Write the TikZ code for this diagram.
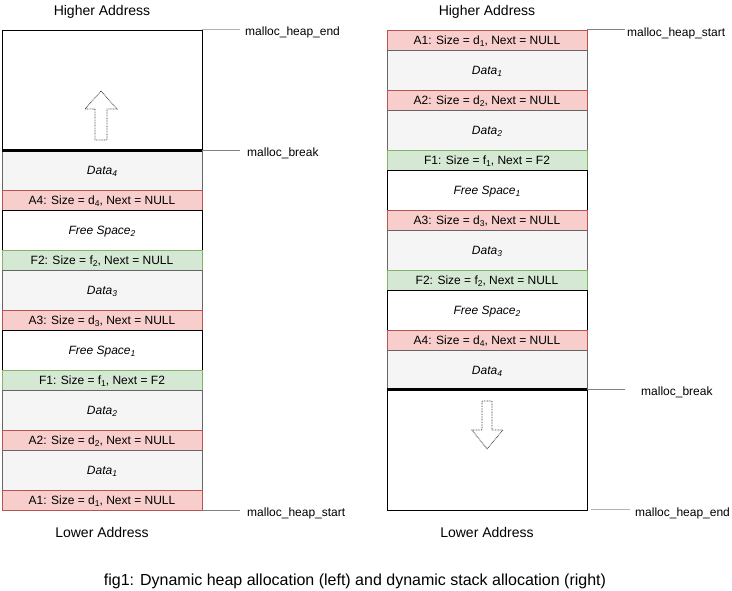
\documentclass[tikz,border=0pt]{standalone}
\usepackage{fontspec}
\setmainfont{Liberation Sans}
\newcommand\sbs[1]{\raisebox{-0.4ex}{\fontsize{8.5}{8}\selectfont #1}}
\definecolor{redf}{HTML}{F8CECC}
\definecolor{redd}{HTML}{B85450}
\definecolor{grnf}{HTML}{D5E8D4}
\definecolor{grnd}{HTML}{82B366}
\definecolor{datf}{HTML}{F5F5F5}
\definecolor{datd}{HTML}{666666}
\begin{document}
\begin{tikzpicture}[x=1pt,y=-1pt,
  cell/.style={rectangle,minimum width=200pt,inner sep=0pt,text depth=0pt,font=\fontsize{12}{14}\selectfont,line width=0.9pt},
  hdr/.style={cell,minimum height=20pt},
  big/.style={cell,minimum height=40pt},
  alloc/.style={hdr,fill=redf,draw=redd},
  freeh/.style={hdr,fill=grnf,draw=grnd},
  datac/.style={big,fill=datf,draw=datd,font=\fontsize{12}{14}\selectfont\itshape},
  freec/.style={big,fill=white,draw=black,font=\fontsize{12}{14}\selectfont\itshape},
  lbl/.style={inner sep=0pt,anchor=west,font=\fontsize{12}{14}\selectfont},
  addr/.style={inner sep=0pt,font=\fontsize{14}{16}\selectfont},
  lline/.style={draw=black!50,line width=0.9pt},
  lline2/.style={draw=black!30,line width=1.8pt},
  growarrow/.style={draw=black!75,dash pattern=on 0.8pt off 0.8pt,line width=0.8pt,fill=white}
]
\useasboundingbox (0,0) rectangle (732,591);

% ---------- left column (heap) ----------
\node[cell,draw=black,minimum height=120pt] (ltop) at (102,90) {};
\node[datac] (ld4) at (102,170) {Data\sbs{4}};
\node[alloc] (la4) at (102,200) {A4: Size = d\sbs{4}, Next = NULL};
\node[freec] (lfs2) at (102,230) {Free Space\sbs{2}};
\node[freeh] (lf2) at (102,260) {F2: Size = f\sbs{2}, Next = NULL};
\node[datac] (ld3) at (102,290) {Data\sbs{3}};
\node[alloc] (la3) at (102,320) {A3: Size = d\sbs{3}, Next = NULL};
\node[freec] (lfs1) at (102,350) {Free Space\sbs{1}};
\node[freeh] (lf1) at (102,380) {F1: Size = f\sbs{1}, Next = F2};
\node[datac] (ld2) at (102,410) {Data\sbs{2}};
\node[alloc] (la2) at (102,440) {A2: Size = d\sbs{2}, Next = NULL};
\node[datac] (ld1) at (102,470) {Data\sbs{1}};
\node[alloc] (la1) at (102,500) {A1: Size = d\sbs{1}, Next = NULL};
\draw[line width=3pt] (ltop.south west) -- (ltop.south east);

\draw[growarrow] (101,91) -- (117,109) -- (107,109) -- (107,140) -- (95,140) -- (95,109) -- (85,109) -- cycle;

\node[addr] (lhigh) at (102,12) {Higher Address};
\node[addr] (llow) at (102,532) {Lower Address};

\node[lbl] (lhend) at (245,32) {malloc\_heap\_end};
\node[lbl] (lbrk) at (247,153) {malloc\_break};
\node[lbl] (lhst) at (247,513) {malloc\_heap\_start};
\draw[lline2] (ltop.north east) -- ++(38,0);
\draw[lline] (ltop.south east) -- ++(38,0);
\draw[lline] (la1.south east) -- ++(38,0);

% ---------- right column (stack) ----------
\node[alloc] (ra1) at (487,40) {A1: Size = d\sbs{1}, Next = NULL};
\node[datac] (rd1) at (487,70) {Data\sbs{1}};
\node[alloc] (ra2) at (487,100) {A2: Size = d\sbs{2}, Next = NULL};
\node[datac] (rd2) at (487,130) {Data\sbs{2}};
\node[freeh] (rf1) at (487,160) {F1: Size = f\sbs{1}, Next = F2};
\node[freec] (rfs1) at (487,190) {Free Space\sbs{1}};
\node[alloc] (ra3) at (487,220) {A3: Size = d\sbs{3}, Next = NULL};
\node[datac] (rd3) at (487,250) {Data\sbs{3}};
\node[freeh] (rf2) at (487,280) {F2: Size = f\sbs{2}, Next = NULL};
\node[freec] (rfs2) at (487,310) {Free Space\sbs{2}};
\node[alloc] (ra4) at (487,340) {A4: Size = d\sbs{4}, Next = NULL};
\node[datac] (rd4) at (487,370) {Data\sbs{4}};
\node[cell,draw=black,minimum height=120pt] (rbot) at (487,450) {};
\draw[line width=3pt] (rbot.north west) -- (rbot.north east);

\draw[growarrow] (487,449) -- (503,430) -- (492,430) -- (492,401) -- (482,401) -- (482,430) -- (472,430) -- cycle;

\node[addr] (rhigh) at (487,12) {Higher Address};
\node[addr] (rlow) at (487,532) {Lower Address};

\node[lbl] (rhst) at (627,33) {malloc\_heap\_start};
\node[lbl] (rbrk) at (641,392) {malloc\_break};
\node[lbl] (rhend) at (635,513) {malloc\_heap\_end};
\draw[lline] (ra1.north east) -- ++(38,0);
\draw[lline] (rbot.north east) -- ++(38,0);
\draw[lline2] ([xshift=4pt,yshift=1pt]rbot.south east) -- ++(39,0);

% ---------- caption ----------
\node[inner sep=0pt,font=\fontsize{16}{18}\selectfont] (cap) at (355,581) {fig1: Dynamic heap allocation (left) and dynamic stack allocation (right)};
\end{tikzpicture}
\end{document}
